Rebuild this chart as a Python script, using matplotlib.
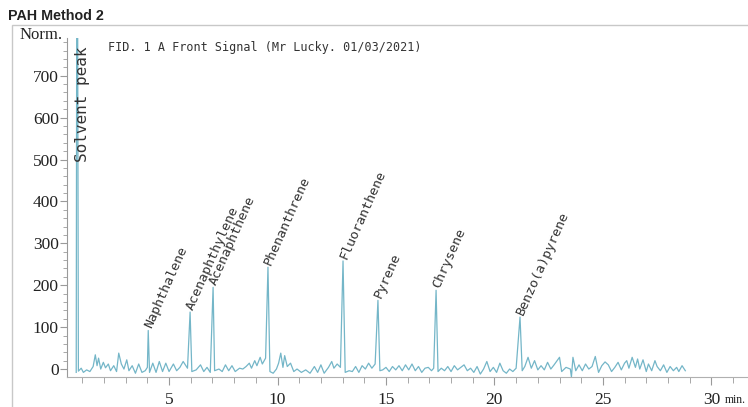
import matplotlib.pyplot as plt
import numpy as np
from matplotlib.ticker import MultipleLocator

# baseline noise of the FID trace (minutes, signal)
noise_times = [
    0.72, 0.82, 0.95, 1.05, 1.2, 1.35, 1.5, 1.6, 1.68, 1.75, 1.85, 1.97, 2.07,
    2.2, 2.3, 2.45, 2.58, 2.68, 2.8, 2.92, 3.05, 3.15, 3.3, 3.45, 3.6, 3.75,
    3.9, 4.0, 4.1, 4.25, 4.4, 4.55, 4.7, 4.85, 5.0, 5.2, 5.35, 5.5, 5.65, 5.85,
    6.05, 6.25, 6.45, 6.6, 6.75, 6.9, 7.1, 7.3, 7.45, 7.6, 7.75, 7.9, 8.05,
    8.25, 8.4, 8.55, 8.7, 8.8, 8.95, 9.05, 9.2, 9.3, 9.45, 9.65, 9.8, 9.95,
    10.05, 10.15, 10.25, 10.33, 10.45, 10.6, 10.75, 10.9, 11.1, 11.3, 11.5,
    11.7, 11.85, 12.0, 12.15, 12.35, 12.5, 12.6, 12.75, 12.9, 13.12, 13.3,
    13.45, 13.6, 13.75, 13.9, 14.05, 14.2, 14.35, 14.5, 14.72, 14.85, 15.0,
    15.15, 15.3, 15.45, 15.6, 15.75, 15.9, 16.05, 16.2, 16.35, 16.5, 16.65,
    16.8, 16.95, 17.1, 17.2, 17.4, 17.55, 17.7, 17.85, 18.0, 18.15, 18.3,
    18.45, 18.6, 18.75, 18.9, 19.05, 19.2, 19.35, 19.5, 19.65, 19.8, 19.95,
    20.1, 20.25, 20.4, 20.55, 20.7, 20.85, 21.0, 21.28, 21.4, 21.55, 21.7,
    21.85, 22.0, 22.15, 22.3, 22.45, 22.6, 22.75, 23.0, 23.1, 23.3, 23.5,
    23.55, 23.62, 23.75, 23.9, 24.05, 24.2, 24.35, 24.5, 24.65, 24.8, 24.95,
    25.1, 25.25, 25.4, 25.55, 25.7, 25.85, 26.0, 26.1, 26.2, 26.35, 26.5,
    26.6, 26.7, 26.85, 27.0, 27.1, 27.25, 27.4, 27.5, 27.65, 27.8, 27.95,
    28.1, 28.25, 28.4, 28.5, 28.65, 28.8,
]
noise_values = [
    -8, -5, 2, -8, -2, -6, 6, 34, 8, 26, 0, 16, 3,
    12, -4, 8, -6, 38, 12, 0, 22, -4, 8, -10, 12, -8,
    -4, 4, -8, 14, -8, 18, -6, 14, -6, 12, -4, 4, 18, 2,
    -6, -2, 10, -6, 4, -8, -4, 0, -6, 10, -4, 8, -6,
    2, 0, 6, 14, 2, 20, 8, 28, 12, 26, -6, -10, 0,
    14, 38, 4, 32, 6, 14, -6, 0, -8, -2, -10,
    6, -8, 10, -10, 4, 18, 2, 12, 4, -8, -4,
    -6, 6, -8, 8, 0, 14, 2, 12, -4, -2, 4,
    -6, 6, -2, 8, -4, 10, -2, 12, -4, 6, -8,
    2, 4, -4, 2, -6, 2, -4, 6, -6, 8, -2,
    4, 10, -4, 2, -8, 6, -12, 0, 18, -6, 4,
    -8, 14, -4, -10, 0, -6, 2, -4, 6, 28, 2,
    20, -2, 8, -2, 16, 0, 10, 28, -6, 4, 0,
    -19, 28, -4, 10, -4, 12, 0, 6, 30, -8, 8,
    17, 10, -6, 4, 16, -2, 14, 20, 2, 28, 4,
    24, 0, 22, -6, 12, -4, 20, 6, -4, 10, -8,
    6, -4, 4, -6, 8, -4,
]

# identified peaks
peak_names = ["Solvent peak", "Naphthalene", "Acenaphthylene", "Acenaphthene",
              "Phenanthrene", "Fluoranthene", "Pyrene", "Chrysene",
              "Benzo(a)pyrene"]
peak_times = [0.76, 4.04, 5.97, 7.03, 9.56, 13.02, 14.63, 17.31, 21.18]
peak_heights = [1500, 92, 136, 195, 243, 258, 164, 188, 124]

x_ticks = [5, 10, 15, 20, 25, 30]
x_tick_labels = ["5", "10", "15", "20", "25", "30"]
y_ticks = [0, 100, 200, 300, 400, 500, 600, 700]

TRACE_COLOR = "#74b6c8"
AXIS_COLOR = "#9a9a9a"

times = np.array(noise_times + peak_times)
values = np.array(noise_values + peak_heights)
order = np.argsort(times)

W, H = 748, 407
fig = plt.figure(figsize=(W / 100, H / 100), dpi=100)
ax = fig.add_axes([67 / W, 1 - 377 / H, (748 - 67) / W, (377 - 38) / H])

# outer frame of the report
fig.patches.append(plt.Rectangle((12 / W, -0.1), 2, 1 - 25 / H + 0.1,
                                 transform=fig.transFigure, fill=False,
                                 edgecolor="#c8c8c8", linewidth=1.0))

ax.plot(times[order], values[order], color=TRACE_COLOR, linewidth=0.9)
ax.set_xlim(0.295, 31.69)
ax.set_ylim(-19, 790)

for spine in ["top", "right"]:
    ax.spines[spine].set_visible(False)
ax.spines["left"].set_color(AXIS_COLOR)
ax.spines["bottom"].set_color("#b0b0b0")

ax.set_xticks(x_ticks, x_tick_labels)
ax.set_yticks(y_ticks)
ax.xaxis.set_minor_locator(MultipleLocator(1))
ax.yaxis.set_minor_locator(MultipleLocator(20))
ax.tick_params(axis="both", which="both", colors=AXIS_COLOR,
               labelcolor="#222222", direction="out")
ax.tick_params(axis="x", which="major", length=6, pad=5)
ax.tick_params(axis="x", which="minor", length=4)
ax.tick_params(axis="y", which="major", length=5, pad=1)
ax.tick_params(axis="y", which="minor", length=3)
for label in ax.get_xticklabels() + ax.get_yticklabels():
    label.set_fontfamily("Liberation Serif")
    label.set_fontsize(12.5)

fig.text(725 / W, 1 - 403 / H, "min.", family="Liberation Serif",
         fontsize=8.5, color="#222222", va="baseline", ha="left")
fig.text(63 / W, 1 - 35 / H, "Norm.", family="Liberation Serif",
         fontsize=12, color="#222222", va="center", ha="right")
fig.text(8 / W, 1 - 16 / H, "PAH Method 2", family="Liberation Sans",
         fontweight="bold", fontsize=10.3, color="#222222", va="center")
fig.text(108 / W, 1 - 47 / H, "FID. 1 A Front Signal (Mr Lucky. 01/03/2021)",
         family="DejaVu Sans Mono", fontsize=8.5, color="#333333", va="center")

# peak labels
ax.text(1.03, 493, peak_names[0], family="DejaVu Sans Mono", fontsize=11.5,
        rotation=90, rotation_mode="anchor", ha="left", va="center",
        color="#333333")
for name, t, h in zip(peak_names[1:], peak_times[1:], peak_heights[1:]):
    ax.annotate(name, xy=(t, h), xytext=(0, 2), textcoords="offset points",
                family="DejaVu Sans Mono", fontsize=9.5, rotation=66,
                rotation_mode="anchor", ha="left", va="center",
                color="#333333")

fig.savefig("out.png", dpi=100)
